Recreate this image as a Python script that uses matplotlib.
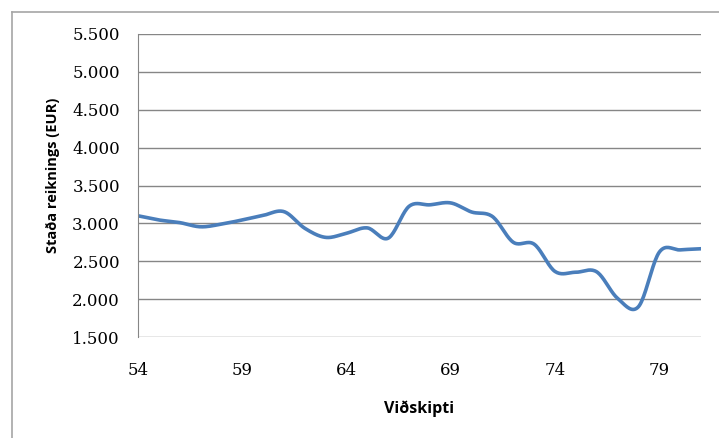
import numpy as np
import matplotlib.pyplot as plt
from matplotlib.lines import Line2D

# Datos
transacciones = list(range(54, 82))
saldo = [3100, 3045, 3010, 2955, 2990, 3045, 3105, 3155, 2935, 2815,
         2870, 2940, 2805, 3225, 3245, 3270, 3150, 3090, 2750, 2725,
         2365, 2355, 2360, 2010, 1900, 2620, 2650, 2665]
ticks_x = [54, 59, 64, 69, 74, 79]
ticks_y = [1500, 2000, 2500, 3000, 3500, 4000, 4500, 5000, 5500]


def suavizar(x, y, n=20):
    # Curva tipo Catmull-Rom (como la línea suavizada de Excel)
    x = np.asarray(x, float)
    y = np.asarray(y, float)
    px = np.concatenate([[2 * x[0] - x[1]], x, [2 * x[-1] - x[-2]]])
    py = np.concatenate([[2 * y[0] - y[1]], y, [2 * y[-1] - y[-2]]])
    xs, ys = [], []
    t = np.linspace(0, 1, n, endpoint=False)
    for i in range(1, len(px) - 2):
        for p, out in ((px, xs), (py, ys)):
            p0, p1, p2, p3 = p[i - 1], p[i], p[i + 1], p[i + 2]
            out.extend(0.5 * (2 * p1 + (-p0 + p2) * t
                              + (2 * p0 - 5 * p1 + 4 * p2 - p3) * t ** 2
                              + (-p0 + 3 * p1 - 3 * p2 + p3) * t ** 3))
    xs.append(x[-1])
    ys.append(y[-1])
    return np.array(xs), np.array(ys)


fig = plt.figure(figsize=(7.19, 4.38), dpi=100)
ax = fig.add_axes([138 / 719, 1 - 337 / 438, (701 - 138) / 719, (337 - 34) / 438])

xs, ys = suavizar(transacciones, saldo)
ax.plot(xs, ys, color='#4a7ebb', linewidth=2.6, solid_capstyle='round')

ax.set_xlim(54, 81)
ax.set_ylim(1500, 5500)
ax.set_xticks(ticks_x)
ax.set_yticks(ticks_y)
ax.set_yticklabels([f"{v:,}".replace(',', '.') for v in ticks_y])
ax.yaxis.grid(True, color='#868686', linewidth=1.0)
ax.set_axisbelow(True)
for s in ['top', 'right', 'bottom']:
    ax.spines[s].set_visible(False)
ax.spines['left'].set_color('#868686')
ax.tick_params(axis='both', length=0, labelsize=12)
ax.tick_params(axis='y', pad=13)
ax.tick_params(axis='x', pad=18)
for lab in ax.get_xticklabels() + ax.get_yticklabels():
    lab.set_family('DejaVu Serif')

ax.set_xlabel('Viðskipti', fontsize=11.5, fontweight='bold', family='Open Sans')
ax.set_ylabel('Staða reiknings (EUR)', fontsize=10.5, fontweight='bold', family='Open Sans')
ax.xaxis.set_label_coords(0.5, (337 - 400) / 303)
ax.yaxis.set_label_coords((60 - 138) / 563, (337 - 175) / 303)

# Marco exterior del gráfico
fig.add_artist(Line2D([12 / 719, 12 / 719], [0, 1 - 12 / 438], color='#a6a6a6', linewidth=1.2))
fig.add_artist(Line2D([12 / 719, 1], [1 - 12 / 438, 1 - 12 / 438], color='#a6a6a6', linewidth=1.2))

plt.savefig('out.png', dpi=100)
